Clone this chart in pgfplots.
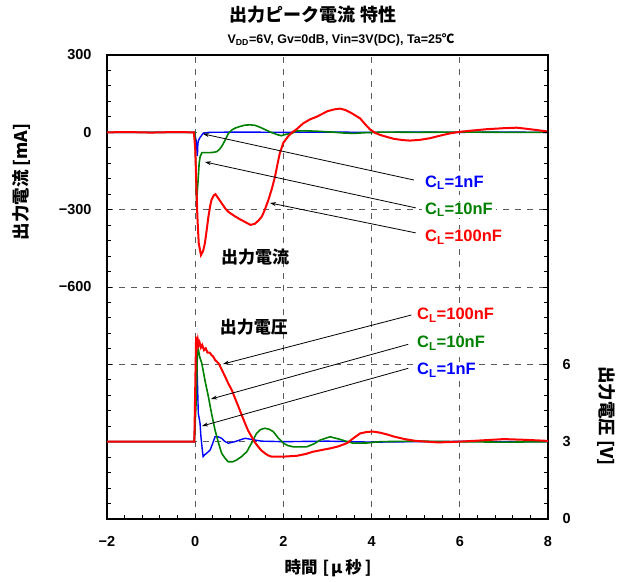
\documentclass[border=0pt]{standalone}
\usepackage{fontspec}
\setmainfont{Liberation Sans}
\newfontfamily\jp{Noto Sans CJK JP}
\usepackage{pgfplots}
\pgfplotsset{compat=1.18}
\usetikzlibrary{arrows.meta}
\definecolor{cblue}{RGB}{0,0,255}
\definecolor{cgreen}{RGB}{0,128,0}
\definecolor{cred}{RGB}{255,0,0}
\definecolor{gridc}{RGB}{90,90,90}
\tikzset{
  lab/.style={anchor=west, fill=white, inner xsep=3bp, inner ysep=1bp, xshift=-3bp, font=\fontsize{16.5bp}{18bp}\selectfont\bfseries},
  arr/.style={-{Stealth[length=6bp,width=4bp]}, line width=0.8bp},
}

\pgfplotstableread{
x y
-2 0
-1.5 1
-1 -1
-0.5 1
-0.03 0
0.0 -60
0.02 -170
0.05 -330
0.08 -430
0.13 -476
0.18 -460
0.22 -430
0.26 -380
0.30 -327
0.34 -285
0.37 -262
0.42 -245
0.46 -240
0.52 -255
0.60 -275
0.68 -295
0.75 -308
0.85 -320
0.98 -334
1.10 -345
1.25 -359
1.35 -355
1.43 -343
1.51 -327
1.58 -300
1.66 -262
1.74 -218
1.81 -172
1.87 -120
1.92 -80
2.0 -40
2.11 -15
2.2 0
2.30 12
2.45 35
2.6 50
2.76 61
3.0 82
3.15 89
3.28 92
3.4 87
3.55 74
3.74 54
3.85 32
3.96 12
4.08 -2
4.19 -10
4.35 -18
4.5 -25
4.7 -30
4.87 -32
5.1 -29
5.32 -23
5.55 -13
5.78 -4
6.0 2
6.23 6
6.6 12
6.99 16
7.29 18
7.5 14
7.74 9
8 3
}\redI

\pgfplotstableread{
x y
-2 0
-0.5 0
-0.01 0
0.01 -100
0.03 -269
0.06 -200
0.09 -120
0.11 -96
0.15 -79
0.30 -79
0.40 -78
0.49 -75
0.55 -66
0.60 -55
0.68 -30
0.75 -5
0.82 8
0.90 16
1.0 22
1.13 28
1.25 29
1.36 27
1.48 19
1.58 11
1.72 0
1.88 -10
1.95 -13
2.05 -8
2.19 -4
2.3 5
2.5 6
2.8 4
3.1 1
3.4 -3
3.6 -4
3.9 -1
4.3 1
5 0
6 1
7 0
8 0
}\greenI

\pgfplotstableread{
x y
-2 0
-0.02 0
0.02 -30
0.05 -92
0.06 -45
0.07 -33
0.11 -20
0.18 -4
0.3 0
1 1
2 0
3 1
4 0
5 1
6 0
7 1
8 0
}\blueI

\pgfplotstableread{
x y
-2 3
-0.5 3
-0.02 3
0.0 5.0
0.02 7.07
0.04 6.7
0.06 6.95
0.08 6.75
0.1 6.85
0.13 6.65
0.16 6.75
0.2 6.55
0.24 6.62
0.28 6.45
0.33 6.45
0.37 6.36
0.41 6.3
0.45 6.17
0.53 6.04
0.60 5.8
0.68 5.52
0.75 5.26
0.83 5.00
0.90 4.7
0.98 4.36
1.05 4.05
1.13 3.71
1.2 3.43
1.28 3.19
1.35 2.98
1.43 2.80
1.5 2.66
1.58 2.55
1.65 2.47
1.73 2.42
2.0 2.42
2.3 2.45
2.5 2.52
2.67 2.61
2.85 2.67
3.06 2.74
3.25 2.82
3.44 2.94
3.6 3.15
3.74 3.32
3.9 3.38
4.03 3.39
4.19 3.35
4.35 3.28
4.5 3.2
4.75 3.1
5 3.03
5.5 2.97
6 3.0
6.5 3.05
7 3.1
7.5 3.07
8 3.03
}\redV

\pgfplotstableread{
x y
-2 3
-0.02 3
0.02 4.5
0.05 6.4
0.07 6.6
0.1 6.3
0.15 6.04
0.22 5.39
0.30 4.74
0.37 4.10
0.45 3.45
0.53 2.94
0.60 2.55
0.68 2.35
0.75 2.22
0.85 2.22
0.94 2.29
1.05 2.42
1.17 2.61
1.28 2.95
1.39 3.32
1.48 3.47
1.58 3.52
1.68 3.48
1.77 3.39
1.88 3.15
2.0 2.94
2.1 2.85
2.22 2.80
2.53 2.80
2.7 2.92
2.83 3.06
3.06 3.19
3.28 3.09
3.45 3.0
3.59 2.94
3.9 2.95
4.2 3.0
5 3.02
6 3.0
7 2.98
8 3.0
}\greenV

\pgfplotstableread{
x y
-2 3
-0.02 3
0.01 5
0.03 6.6
0.05 5.39
0.07 4.10
0.11 3.71
0.13 3.19
0.16 2.7
0.18 2.42
0.22 2.5
0.26 2.55
0.34 2.68
0.40 2.95
0.45 3.19
0.52 3.19
0.6 3.13
0.68 3.0
0.75 2.94
0.90 3.0
1.13 3.13
1.3 3.08
1.5 3.02
2 3
3 3.02
4 2.98
5 3
6 3.01
7 3
8 3
}\blueV

\begin{document}
\begin{tikzpicture}
\pgfplotsset{
  common/.style={
    scale only axis, width=441bp, height=464bp,
    xmin=-2, xmax=8,
    tick align=inside,
    major tick length=5bp, minor tick length=4bp,
    every tick/.style={black, line width=0.9bp},
    axis line style={line width=1.5bp},
    tick label style={font=\fontsize{14.5bp}{16bp}\selectfont\bfseries},
  },
}
\begin{axis}[common,
  ymin=-1500, ymax=300,
  xtick={-2,0,2,4,6,8}, xticklabels={−2,0,2,4,6,8},
  minor x tick num=4,
  ytick={-1500,-1200,-900,-600,-300,0,300},
  yticklabels={{},{},{},−600,−300,0,300},
  minor y tick num=4,
  xtick pos=bottom, ytick pos=left,
  xticklabel style={yshift=-14bp},
  yticklabel style={xshift=-12bp},
  grid=major,
  major grid style={gridc, line width=0.9bp, dash pattern=on 6bp off 6bp},
]
\addplot[cblue, line width=1.4bp] table {\blueI};
\addplot[cgreen, line width=1.6bp] table {\greenI};
\addplot[cred, line width=2bp] table {\redI};

\draw[arr] (axis cs:4.96,-185) -- (axis cs:0.177,-6);
\draw[arr] (axis cs:5.0,-293) -- (axis cs:0.222,-115);
\draw[arr] (axis cs:5.0,-390) -- (axis cs:1.696,-274);
\node[lab, text=cblue] at (axis cs:5.21,-196) {C\textsubscript{L}=1nF};
\node[lab, text=cgreen] at (axis cs:5.21,-301) {C\textsubscript{L}=10nF};
\node[lab, text=cred] at (axis cs:5.21,-406) {C\textsubscript{L}=100nF};
\node[inner sep=0pt, font=\jp\fontsize{17bp}{19bp}\selectfont\bfseries] at (axis cs:1.356,-484) {出力電流};
\end{axis}

\begin{axis}[common,
  ymin=0, ymax=18,
  axis x line=none, axis y line*=right,
  ytick={0,3,6,9,12,15,18},
  yticklabels={0,3,6,{},{},{},{}},
  minor y tick num=4,
  ytick pos=right,
  yticklabel style={xshift=11bp},
]
\addplot[cblue, line width=1.4bp] table {\blueV};
\addplot[cgreen, line width=1.6bp] table {\greenV};
\addplot[cred, line width=2bp] table {\redV};

\draw[arr] (axis cs:4.90,7.913) -- (axis cs:0.630,6.012);
\draw[arr] (axis cs:4.83,6.777) -- (axis cs:0.358,4.655);
\draw[arr] (axis cs:4.83,5.846) -- (axis cs:0.154,3.607);
\node[lab, text=cred] at (axis cs:5.03,7.913) {C\textsubscript{L}=100nF};
\node[lab, text=cgreen] at (axis cs:5.03,6.827) {C\textsubscript{L}=10nF};
\node[lab, text=cblue] at (axis cs:5.03,5.780) {C\textsubscript{L}=1nF};
\node[inner sep=0pt, font=\jp\fontsize{17bp}{19bp}\selectfont\bfseries] at (axis cs:1.333,7.448) {出力電圧};
\end{axis}

\node[inner sep=0pt, font=\jp\fontsize{18bp}{20bp}\selectfont\bfseries] at (206bp,504bp) {出力ピーク電流 特性};
\node[inner sep=0pt, font=\fontsize{12.5bp}{14bp}\selectfont\bfseries] at (234bp,479bp) {V\textsubscript{DD}=6V, Gv=0dB, Vin=3V(DC), Ta=25{\jp ℃}};
\node[inner sep=0pt, rotate=90, font=\jp\fontsize{17.5bp}{19bp}\selectfont\bfseries] at (-85bp,337bp) {出力電流 [mA]};
\node[inner sep=0pt, rotate=-90, font=\jp\fontsize{17.5bp}{19bp}\selectfont\bfseries] at (499bp,103bp) {出力電圧 [V]};
\node[inner sep=0pt, font=\jp\fontsize{16.5bp}{18bp}\selectfont\bfseries] at (221bp,-49bp) {時間\hspace{5bp}[\hspace{2bp}μ\hspace{3bp}秒\hspace{3bp}]};
\path (-107bp,-63bp) rectangle (522bp,519bp);
\end{tikzpicture}
\end{document}
